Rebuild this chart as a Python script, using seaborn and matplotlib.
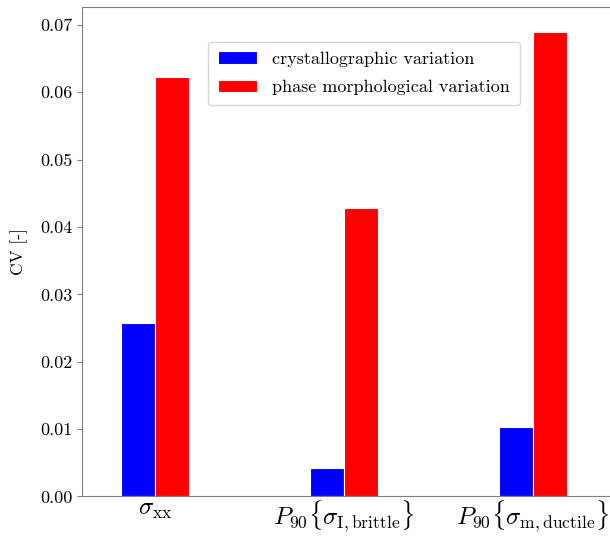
import numpy as np
import pandas as pd
import matplotlib
matplotlib.use("Agg")
import matplotlib.pyplot as plt
import seaborn as sns

plt.rcParams['font.family'] = 'serif'
plt.rcParams['font.serif'] = ['cmr10']
plt.rcParams['mathtext.fontset'] = 'cm'
plt.rcParams['axes.formatter.use_mathtext'] = True

# CV values
quantities = [r'$\sigma_{\mathrm{xx}}$',
              r'$P_{90}\{\sigma_{\mathrm{I,brittle}}\}$',
              r'$P_{90}\{\sigma_{\mathrm{m,ductile}}\}$']
cv_crystal = [0.0257, 0.0042, 0.0103]
cv_phase = [0.0622, 0.0428, 0.0690]
sources = ['crystallographic variation', 'phase morphological variation']
yticks = [0.00, 0.01, 0.02, 0.03, 0.04, 0.05, 0.06, 0.07]

df = pd.DataFrame({
    'quantity': quantities * 2,
    'cv': cv_crystal + cv_phase,
    'source': [sources[0]] * 3 + [sources[1]] * 3,
})

fig = plt.figure(figsize=(6.1, 5.36), dpi=100)
ax = fig.add_axes([0.135, 0.0737, 0.875, 0.9127])

sns.barplot(data=df, x='quantity', y='cv', hue='source', palette=['#0000ff', '#ff0000'],
            saturation=1, width=0.36, edgecolor='white', linewidth=0.8, errorbar=None, ax=ax)

ax.set_xlim(-0.384, 2.44)
ax.set_ylim(0, 0.0726)
ax.set_yticks(yticks)
ax.set_yticklabels([f'{v:.2f}' for v in yticks])
ax.set_xlabel('')
ax.set_ylabel('CV [-]', fontsize=12.5, labelpad=9)
ax.tick_params(axis='y', labelsize=13, color='#808080')
ax.tick_params(axis='x', labelsize=18, length=0, pad=2)
for sp in ax.spines.values():
    sp.set_color('#808080')

ax.legend(loc='upper left', bbox_to_anchor=(0.235, 0.93), borderaxespad=0, fontsize=13,
          title=None, labelspacing=0.7, borderpad=0.55, handlelength=2.2)

fig.savefig('out.png', dpi=100)
